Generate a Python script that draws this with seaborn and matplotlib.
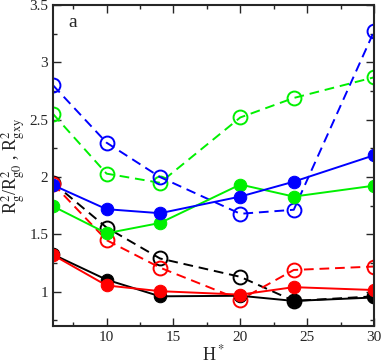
import matplotlib
matplotlib.use("Agg")
import matplotlib.pyplot as plt
import seaborn as sns
from matplotlib.ticker import MultipleLocator

# data
h_star = [6, 10, 14, 20, 24, 30]

blue_open = [2.80, 2.30, 2.00, 1.68, 1.715, 3.27]
green_open = [2.55, 2.03, 1.95, 2.52, 2.69, 2.87]
black_open = [1.95, 1.56, 1.29, 1.13, 0.92, 0.96]
red_open = [1.94, 1.45, 1.21, 0.93, 1.19, 1.22]

blue_full = [1.93, 1.72, 1.685, 1.83, 1.96, 2.19]
green_full = [1.745, 1.51, 1.60, 1.935, 1.83, 1.925]
black_full = [1.325, 1.105, 0.96, 0.965, 0.92, 0.95]
red_full = [1.32, 1.055, 1.005, 0.975, 1.04, 1.015]

sns.set_style("ticks")
plt.rcParams["font.family"] = ["Liberation Serif", "DejaVu Serif"]
plt.rcParams["mathtext.fontset"] = "stix"

fig = plt.figure(figsize=(3.82, 3.64), dpi=100)
ax = fig.add_axes([0.139, 0.104, 0.840, 0.882])

series = [
    (black_open, "black", False),
    (red_open, "#ff0000", False),
    (green_open, "#00f000", False),
    (blue_open, "#0000ff", False),
    (black_full, "black", True),
    (red_full, "#ff0000", True),
    (green_full, "#00f000", True),
    (blue_full, "#0000ff", True),
]

for vals, col, filled in series:
    if filled:
        sns.lineplot(x=h_star, y=vals, ax=ax, color=col, marker="o",
                     markersize=9, markerfacecolor=col, markeredgecolor=col,
                     linewidth=1.4, linestyle="-")
    else:
        sns.lineplot(x=h_star, y=vals, ax=ax, color=col, marker="o",
                     markersize=10, markerfacecolor="none", markeredgecolor=col,
                     markeredgewidth=1.4, linewidth=1.4, linestyle=(0, (5, 3)))

ax.set_xlim(6, 30)
ax.set_ylim(0.7, 3.5)
ax.xaxis.set_minor_locator(MultipleLocator(2.5))
ax.yaxis.set_minor_locator(MultipleLocator(0.25))
ax.set_yticks([1, 1.5, 2, 2.5, 3, 3.5])
ax.set_yticklabels(["1", "1.5", "2", "2.5", "3", "3.5"])
ax.set_xticks([10, 15, 20, 25, 30])
ax.set_xticklabels(["10", "15", "20", "25", "30"])
ax.tick_params(which="both", direction="in", top=True, right=True,
               labelsize=11, width=1.0)
ax.tick_params(which="major", length=6)
ax.tick_params(which="minor", length=3)
for sp in ax.spines.values():
    sp.set_linewidth(1.5)

ax.set_xlabel(r"H$^*$", fontsize=13, labelpad=0)
ax.set_ylabel(r"R$_\mathrm{g}^2$/R$_\mathrm{g0}^2$ , R$_\mathrm{gxy}^2$",
              fontsize=13, labelpad=1)
ax.text(0.047, 0.947, "a", transform=ax.transAxes, fontsize=14, ha="left", va="center")

fig.savefig("out.png", dpi=100)
